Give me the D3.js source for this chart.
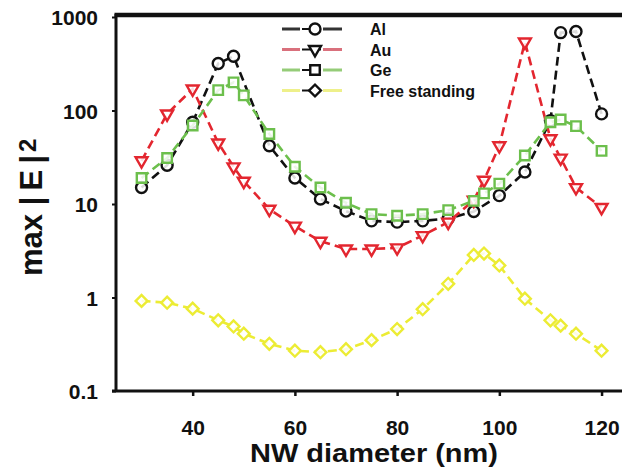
<!DOCTYPE html>
<head>
  <meta charset="utf-8">
  <script src="https://d3js.org/d3.v7.min.js"></script>
  <style>
    body { margin: 0; background: #fff; }
    text { font-family: "Liberation Sans", Arial, sans-serif; font-weight: bold; fill: #111; }
  </style>
</head>

<body>
  <script>

    var outerWidth = 622,
      outerHeight = 472;

    // plot box in page pixels
    var margin = { top: 17, left: 116, right: 0, bottom: 82 };

    // data
    var alDiameter = [30, 35, 40, 45, 48, 55, 60, 65, 70, 75, 80, 85, 90, 95, 100, 105, 110, 112, 115, 120];
    var alValue = [15, 26, 75, 318, 380, 42, 19, 11.3, 8.4, 6.6, 6.4, 6.6, 7.0, 8.3, 12.3, 22, 78, 680, 700, 92];

    var auDiameter = [30, 35, 40, 45, 48, 50, 55, 60, 65, 70, 75, 80, 85, 90, 95, 97, 100, 105, 110, 112, 115, 120];
    var auValue = [29, 92, 170, 45, 25, 17.5, 8.8, 5.8, 4.0, 3.3, 3.3, 3.4, 4.6, 6.4, 11, 18, 42, 540, 50, 31, 15, 9.2];

    var geDiameter = [30, 35, 40, 45, 48, 50, 55, 60, 65, 70, 75, 80, 85, 90, 95, 97, 100, 105, 110, 112, 115, 120];
    var geValue = [19, 31, 69, 165, 200, 145, 56, 25, 15, 10.3, 7.8, 7.5, 7.8, 8.6, 10.8, 13, 16.5, 33, 75, 80, 68, 37];

    var fsDiameter = [30, 35, 40, 45, 48, 50, 55, 60, 65, 70, 75, 80, 85, 90, 95, 97, 100, 105, 110, 112, 115, 120];
    var fsValue = [0.92, 0.88, 0.76, 0.57, 0.49, 0.41, 0.32, 0.27, 0.26, 0.28, 0.35, 0.46, 0.75, 1.4, 2.85, 2.95, 2.2, 0.97, 0.57, 0.5, 0.41, 0.27];

    var xTicks = [40, 60, 80, 100, 120];
    var yTicks = [0.1, 1, 10, 100, 1000];
    var yTickLabels = ["0.1", "1", "10", "100", "1000"];

    var width = outerWidth - margin.left - margin.right,
      height = outerHeight - margin.top - margin.bottom;

    var xScale = d3.scaleLinear().domain([25, 124]).range([0, width]);
    var yScale = d3.scaleLog().domain([0.1, 1000]).range([height + 1, 0]);

    function pairs(xs, ys) {
      return xs.map(function(v, i) { return [v, ys[i]]; });
    }

    var series = [
      { name: "Free standing", points: pairs(fsDiameter, fsValue), color: "#ecec34", legendLine: "#eef08a", shape: "diamond" },
      { name: "Al", points: pairs(alDiameter, alValue), color: "#111", legendLine: "#333", shape: "circle" },
      { name: "Au", points: pairs(auDiameter, auValue), color: "#e3262f", legendLine: "#d9707c", shape: "triangle" },
      { name: "Ge", points: pairs(geDiameter, geValue), color: "#6cbf4c", legendLine: "#95cc78", shape: "square" }
    ];
    var legendOrder = ["Al", "Au", "Ge", "Free standing"];

    function marker(sel, shape) {
      var sym;
      if (shape === "circle") sym = d3.symbol().type(d3.symbolCircle).size(95);
      else if (shape === "square") sym = d3.symbol().type(d3.symbolSquare).size(90);
      else if (shape === "triangle") sym = d3.symbol().type(d3.symbolTriangle).size(62);
      else sym = d3.symbol().type(d3.symbolSquare).size(70);
      sel.attr("d", sym);
    }
    function rot(shape) {
      if (shape === "triangle") return " rotate(180)";
      if (shape === "diamond") return " rotate(45)";
      return "";
    }

    var svg = d3.select("body")
      .append("svg")
      .attr("width", outerWidth)
      .attr("height", outerHeight)
      .append("g")
      .attr("transform", "translate(" + margin.left + " " + margin.top + ")");

    // legend box (white, behind lines)
    var legend = svg.append("g");
    legend.append("rect")
      .attr("x", 241).attr("y", 0).attr("width", 139).attr("height", 83)
      .attr("fill", "#fff");

    var line = d3.line()
      .x(function(d) { return xScale(d[0]); })
      .y(function(d) { return yScale(d[1]); });

    series.forEach(function(s) {
      var g = svg.append("g");
      g.append("path")
        .datum(s.points)
        .attr("d", line)
        .attr("fill", "none")
        .attr("stroke", s.color)
        .attr("stroke-width", 2.6)
        .attr("stroke-dasharray", "9,5");
      g.selectAll(".pt")
        .data(s.points)
        .enter().append("path")
        .attr("class", "pt")
        .call(marker, s.shape)
        .attr("transform", function(d) {
          return "translate(" + xScale(d[0]) + "," + yScale(d[1]) + ")" + rot(s.shape);
        })
        .attr("fill", "#fff")
        .attr("fill-opacity", 0.85)
        .attr("stroke", s.color)
        .attr("stroke-width", 2.4);
    });

    // legend rows
    legendOrder.forEach(function(name, i) {
      var s = series.filter(function(d) { return d.name === name; })[0];
      var cy = 12 + i * 20.5;
      legend.append("line")
        .attr("x1", 166).attr("x2", 184).attr("y1", cy).attr("y2", cy)
        .attr("stroke", s.legendLine).attr("stroke-width", 3);
      legend.append("line")
        .attr("x1", 207).attr("x2", 226).attr("y1", cy).attr("y2", cy)
        .attr("stroke", s.legendLine).attr("stroke-width", 3);
      legend.append("line")
        .attr("x1", 186).attr("x2", 205).attr("y1", cy).attr("y2", cy)
        .attr("stroke", "#111").attr("stroke-width", 2);
      legend.append("path")
        .call(marker, s.shape)
        .attr("transform", "translate(199," + cy + ")" + rot(s.shape))
        .attr("fill", "#fff")
        .attr("stroke", "#111")
        .attr("stroke-width", 2.4);
      legend.append("text")
        .attr("x", 254)
        .attr("y", cy + 6)
        .style("font-size", "16px")
        .text(name);
    });

    // axes
    var yAxis = d3.axisLeft(yScale)
      .tickValues(yTicks)
      .tickFormat(function(d, i) { return yTickLabels[i]; })
      .tickSize(4)
      .tickSizeOuter(0)
      .tickPadding(14);
    var yAxisContainer = svg.append("g").call(yAxis);
    yAxisContainer.select(".domain").remove();
    yAxisContainer.selectAll("line").attr("stroke", "#111").attr("stroke-width", 2);
    yAxisContainer.selectAll("text")
      .style("font-size", "21px")
      .attr("font-family", null)
      .attr("dy", "0.36em");

    var xAxis = d3.axisBottom(xScale)
      .tickValues(xTicks)
      .tickSize(5)
      .tickSizeOuter(0)
      .tickPadding(24);
    var xAxisContainer = svg.append("g")
      .attr("transform", "translate(0 " + (height + 1) + ")")
      .call(xAxis);
    xAxisContainer.select(".domain").remove();
    xAxisContainer.selectAll("line").attr("stroke", "#111").attr("stroke-width", 2.5);
    xAxisContainer.selectAll("text")
      .style("font-size", "21px")
      .attr("font-family", null);

    // frame lines: left, bottom, thick top
    svg.append("line")
      .attr("x1", 0).attr("x2", 0).attr("y1", -3).attr("y2", height + 2)
      .attr("stroke", "#111").attr("stroke-width", 3);
    svg.append("line")
      .attr("x1", -4).attr("x2", width).attr("y1", height + 1).attr("y2", height + 1)
      .attr("stroke", "#111").attr("stroke-width", 3);
    svg.append("line")
      .attr("x1", -1.5).attr("x2", width).attr("y1", -2).attr("y2", -2)
      .attr("stroke", "#111").attr("stroke-width", 4.5);

    // axis titles
    svg.append("text")
      .attr("x", 258)
      .attr("y", height + 72)
      .attr("textLength", 248)
      .attr("lengthAdjust", "spacingAndGlyphs")
      .style("text-anchor", "middle")
      .style("font-size", "25px")
      .text("NW diameter (nm)");

    var yTitle = svg.append("text")
      .attr("transform", "translate(" + (42 - margin.left) + "," + (276 - margin.top) + ") rotate(-90)")
      .style("font-size", "31px");
    yTitle.append("tspan").text("max |\u2009E\u2009|");
    yTitle.append("tspan").attr("dy", -6).attr("dx", 3).style("font-size", "24px").text("2");

  </script>
</body>
